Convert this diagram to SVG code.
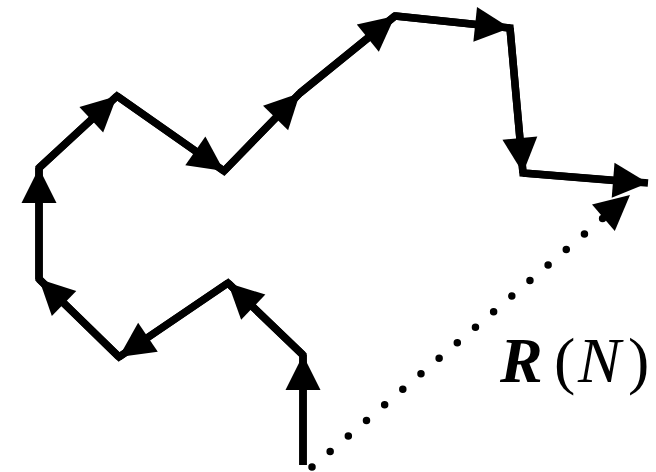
<svg xmlns="http://www.w3.org/2000/svg" width="656" height="472" viewBox="0 0 656 472">
<style>
.seg{stroke:#000;stroke-width:7.5;fill:none;marker-end:url(#ah)}
.walk{stroke:#000;stroke-width:7.5;fill:none;stroke-linejoin:miter}
.dot{stroke:#000;stroke-width:7.5;fill:none;stroke-linecap:round;stroke-dasharray:0 23.9;marker-end:url(#ah)}
.lbl{font-family:"Liberation Serif","Times New Roman",serif;font-size:64px;fill:#000}
</style>
<defs>
<marker id="ah" markerUnits="userSpaceOnUse" markerWidth="38" markerHeight="38" refX="35" refY="17.5" orient="auto" overflow="visible">
<path d="M0,0 L35,17.5 L0,35 z" fill="#000"/>
</marker>
</defs>
<rect width="656" height="472" fill="#fff"/>
<g id="walk">
<polyline class="walk" points="303,465 303,355 228,283 119,357 39,279 39,168 117,96 224,171 300,93 395,16 510,28 523,173 620,181"/>
</g>
<g id="connectors">
<line class="seg" x1="303" y1="465" x2="303" y2="355"/>
<line class="seg" x1="303" y1="355" x2="228" y2="283"/>
<line class="seg" x1="228" y1="283" x2="119" y2="357"/>
<line class="seg" x1="119" y1="357" x2="39" y2="279"/>
<line class="seg" x1="39" y1="279" x2="39" y2="168"/>
<line class="seg" x1="39" y1="168" x2="117" y2="96"/>
<line class="seg" x1="117" y1="96" x2="224" y2="171"/>
<line class="seg" x1="224" y1="171" x2="300" y2="93"/>
<line class="seg" x1="300" y1="93" x2="395" y2="16"/>
<line class="seg" x1="395" y1="16" x2="510" y2="28"/>
<line class="seg" x1="510" y1="28" x2="523" y2="173"/>
<line class="seg" x1="523" y1="173" x2="648" y2="183"/>
<line class="dot" x1="312" y1="467" x2="630" y2="195"/>
</g>
<g id="label">
<text class="lbl" y="382"><tspan x="500" font-weight="bold" font-style="italic">R</tspan><tspan x="554">(</tspan><tspan x="578" font-style="italic">N</tspan><tspan x="628">)</tspan></text>
</g>
</svg>
